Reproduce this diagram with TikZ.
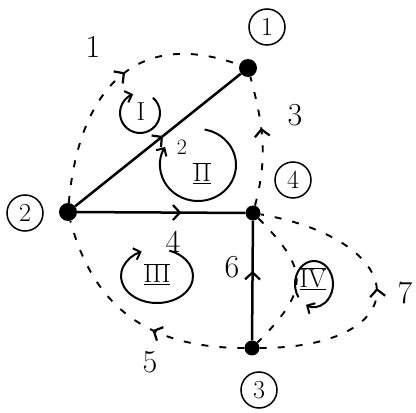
\documentclass[tikz,border=0pt]{standalone}
\usetikzlibrary{arrows.meta,decorations.markings}
\tikzset{
  vert/.style={circle,fill=black,inner sep=0pt,minimum size=15pt},
  vlab/.style={circle,draw,line width=1.5pt,inner sep=0pt,minimum size=36pt,font=\fontsize{26}{28}\selectfont},
  elab/.style={font=\fontsize{32}{34}\selectfont},
  rlab/.style={font=\fontsize{26}{28}\selectfont},
  edge/.style={line width=2.5pt},
  dedge/.style={line width=1.9pt,dash pattern=on 7pt off 11pt},
  midarr/.style={postaction={decorate},decoration={markings,
      mark=at position #1 with {\arrow[line width=2.2pt]{Straight Barb[length=7pt,width=15pt]}}}},
  midarr/.default=0.5,
  turn/.style={line width=2pt,-{Straight Barb[length=6pt,width=12pt]}}
}
\begin{document}
\begin{tikzpicture}[x=1pt,y=1pt]
\useasboundingbox (0,0) rectangle (416,413);
% vertices
\node[vert,minimum size=18pt] (v1) at (248,345) {};
\node[vert,minimum size=18pt] (v2) at (68,201) {};
\node[vert] (v4) at (253,200) {};
\node[vert] (v3) at (252,65) {};
% vertex numbers
\node[vlab] (n1) at (267,386) {1};
\node[vlab] (n2) at (25,200) {2};
\node[vlab] (n4) at (293,233) {4};
\node[vlab] (n3) at (259,23) {3};
% solid edges
\draw[edge,midarr=0.53] (v2) -- (v1);
\draw[edge,midarr=0.62] (v2) -- (v4);
\draw[edge,midarr=0.58] (v3) -- (v4);
% dashed edges
\draw[dedge,midarr=0.55] (v2) to[out=85,in=160,looseness=1.3] (v1);
\draw[dedge,midarr=0.6] (v4) to[out=75,in=-75] (v1);
\draw[dedge,midarr=0.4] (v3) to[out=180,in=-75,looseness=1.1] (v2);
\draw[dedge,midarr=0.5] (v3) to[out=0,in=-10,looseness=3] (v4);
\draw[dedge] (v4) to[out=-45,in=45,looseness=1.5] (v3);
% edge numbers
\node[elab] (e1) at (93,366) {1};
\node[font=\fontsize{22}{24}\selectfont] (e2) at (182,266) {2};
\node[elab] (e3) at (295,298) {3};
\node[elab] (e4) at (173,171) {4};
\node[elab] (e5) at (150,51) {5};
\node[elab] (e6) at (232,146) {6};
\node[elab] (e7) at (405,120) {7};
% regions
\node[rlab] (rI) at (141,301) {I};
\draw[turn] (140,300) ++(50:20) arc[start angle=50,end angle=-250,radius=20];
\node[rlab] (rII) at (202,240) {$\overline{\underline{\hbox{II}}}$};
\draw[turn] (198,248) ++(80:38 and 36) arc[start angle=80,end angle=-210,x radius=38,y radius=36];
\node[rlab] (rIII) at (157,139) {$\overline{\underline{\hbox{III}}}$};
\draw[turn] (157,137) ++(70:36 and 27) arc[start angle=70,end angle=-245,x radius=36,y radius=27];
\node[rlab] (rIV) at (313,134) {$\overline{\underline{\hbox{IV}}}$};
\draw[turn] (314,129) ++(215:19 and 23) arc[start angle=215,end angle=-115,x radius=19,y radius=23];
\end{tikzpicture}
\end{document}
